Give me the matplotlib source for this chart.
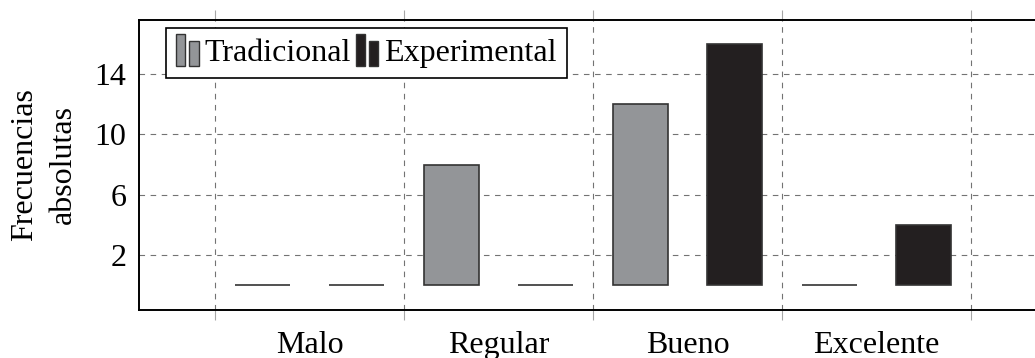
import matplotlib
matplotlib.use('Agg')
import matplotlib.pyplot as plt
from matplotlib.patches import Rectangle
from matplotlib.legend_handler import HandlerBase
import numpy as np

# datos
categorias = ['Malo', 'Regular', 'Bueno', 'Excelente']
tradicional = [0, 8, 12, 0]
experimental = [0, 0, 16, 4]
yticks = [2, 6, 10, 14]

plt.rcParams['font.family'] = 'Liberation Serif'
plt.rcParams['font.size'] = 23

color_trad = '#939598'
color_exp = '#231f20'
borde = '#333333'


# icono de leyenda estilo pgfplots (dos barritas)
class HandlerDosBarras(HandlerBase):
    def create_artists(self, legend, orig_handle, xdescent, ydescent,
                       width, height, fontsize, trans):
        fc = orig_handle.patches[0].get_facecolor()
        w = width * 0.4
        r1 = Rectangle((-xdescent, -ydescent - 0.15 * height), w, height * 1.3,
                       facecolor=fc, edgecolor=borde, lw=1, transform=trans)
        r2 = Rectangle((-xdescent + width * 0.55, -ydescent - 0.15 * height), w, height * 1.0,
                       facecolor=fc, edgecolor=borde, lw=1, transform=trans)
        return [r1, r2]


fig = plt.figure(figsize=(10.35, 3.58), dpi=100)
ax = fig.add_axes([139 / 1035, 48 / 358, 906 / 1035, 290 / 358])

x = np.arange(len(categorias))
ancho = 0.29
b1 = ax.bar(x - 0.25, tradicional, ancho, color=color_trad, edgecolor=borde,
            linewidth=1.2, label='Tradicional', zorder=3)
b2 = ax.bar(x + 0.25, experimental, ancho, color=color_exp, edgecolor=borde,
            linewidth=1.2, label='Experimental', zorder=3)

ax.set_xlim(-0.902, 3.891)
ax.set_ylim(-1.64, 17.59)

# grilla en los limites de las categorias, etiquetas en el centro
ax.set_xticks(np.append(x[0] - 0.5, x + 0.5))
ax.set_xticklabels([])
ax.set_xticks(x, minor=True)
ax.set_xticklabels(categorias, minor=True)
ax.tick_params(axis='x', which='major', direction='out', length=7.5, width=0.8,
               color='0.65', top=True)
ax.tick_params(axis='x', which='minor', length=0, pad=15)

ax.set_yticks(yticks)
ax.tick_params(axis='y', length=0, pad=9)

ax.grid(True, which='major', linestyle=(0, (5, 5)), color='0.45', linewidth=0.8, zorder=0)
ax.set_axisbelow(True)

for s in ['left', 'bottom', 'top']:
    ax.spines[s].set_linewidth(1.4)
ax.spines['right'].set_visible(False)

ax.set_ylabel('Frecuencias\nabsolutas', linespacing=1.45, labelpad=12)

leg = ax.legend(handles=[b1, b2], loc='upper left', bbox_to_anchor=(0.03, 0.972),
                borderaxespad=0, ncol=2, fancybox=False, framealpha=1,
                edgecolor='black', handlelength=0.75, handleheight=0.8,
                handletextpad=0.15, columnspacing=0.15, borderpad=0.3,
                handler_map={b1: HandlerDosBarras(), b2: HandlerDosBarras()})
leg.get_frame().set_linewidth(1.2)

fig.savefig('out.png', dpi=100)
